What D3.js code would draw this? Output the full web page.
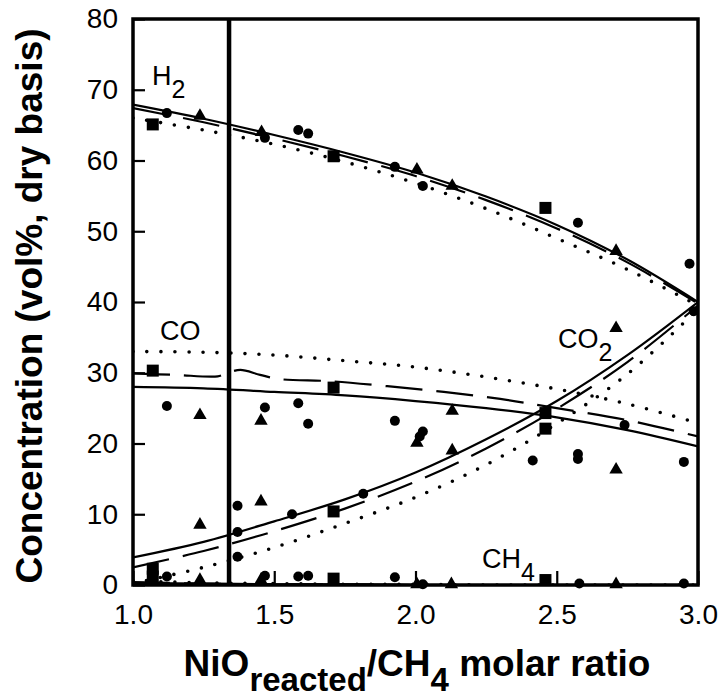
<!DOCTYPE html>
<html><head><meta charset="utf-8">
<script src="https://cdn.jsdelivr.net/npm/d3@7"></script>
<style>body{margin:0;background:#fff}svg{display:block}text{font-family:"Liberation Sans",Arial,sans-serif;fill:#000}</style>
</head><body>
<svg id="c" width="723" height="700"></svg>
<script>
// ---- data ----
const xTicks = [1.0, 1.5, 2.0, 2.5, 3.0];
const yTicks = [0, 10, 20, 30, 40, 50, 60, 70, 80];
const reactedLine = 1.34;

const modelX = [1.0, 1.25, 1.5, 1.75, 2.0, 2.25, 2.5, 2.75, 3.0];
const h2Solid  = [67.9, 65.9, 63.6, 61.1, 58.3, 54.9, 50.9, 46.0, 40.0];
const h2Dashed = [67.4, 65.4, 63.1, 60.6, 57.8, 54.4, 50.4, 45.6, 39.8];
const h2Dotted = [66.0, 64.3, 62.3, 59.8, 56.8, 53.2, 49.0, 44.6, 39.5];
const coSolid  = [28.0, 27.8, 27.3, 26.8, 26.0, 25.0, 23.7, 21.9, 19.6];
const coDotted = [33.0, 32.9, 32.5, 31.7, 30.8, 29.4, 27.7, 25.6, 22.9];
const co2Solid  = [3.9, 6.1, 9.0, 12.1, 15.9, 20.6, 26.0, 32.5, 40.0];
const co2Dashed = [2.5, 4.8, 7.6, 10.8, 14.6, 19.3, 24.9, 31.5, 39.5];
const co2Dotted = [0.2, 2.5, 5.3, 8.7, 12.4, 17.0, 22.8, 29.8, 39.0];
const ch4Solid  = [0.3, 0.2, 0.1, 0.1, 0.0, 0.0, 0.0, 0.0, 0.0];
const ch4Dashed = [0.4, 0.2, 0.1, 0.1, 0.0, 0.0, 0.0, 0.0, 0.0];
const ch4Dotted = [0.6, 0.3, 0.2, 0.1, 0.1, 0.0, 0.0, 0.0, 0.0];
const coDashedX = [1.0, 1.15, 1.3, 1.33, 1.38, 1.45, 1.52, 1.7, 1.9, 2.1, 2.3, 2.5, 2.75, 3.0];
const coDashedY = [29.9, 29.7, 29.5, 29.9, 30.4, 29.7, 29.1, 28.8, 28.1, 27.3, 26.3, 25.0, 23.3, 21.0];

// measured points: [ratio, vol%]
const circles = [
  [1.12,66.7],[1.467,63.2],[1.585,64.3],[1.62,63.8],[1.927,59.1],[2.026,56.4],[2.575,51.2],[2.97,45.4],
  [1.12,25.3],[1.467,25.1],[1.585,25.7],[1.62,22.8],[1.927,23.2],[2.026,21.7],[2.415,17.6],[2.575,18.5],[2.74,22.6],[2.95,17.4],
  [1.37,11.2],[1.37,7.5],[1.37,4.0],[1.563,10.0],[1.815,12.9],[2.015,21.0],[2.575,17.8],[2.985,38.7],
  [1.12,1.2],[1.467,1.3],[1.585,1.2],[1.62,1.3],[1.927,1.1],[2.026,0.1],[2.58,0.2],[2.95,0.2]
];
const triangles = [
  [1.237,66.3],[1.455,64.0],[2.005,58.7],[2.13,56.4],[2.71,47.2],
  [1.237,24.0],[1.453,23.2],[2.13,24.6],[2.71,16.3],
  [1.237,8.5],[1.453,11.8],[2.005,20.1],[2.13,19.0],[2.71,36.3],
  [1.237,0.7],[1.453,0.7],[2.005,0.1],[2.127,0.1],[2.71,0.1]
];
const squares = [
  [1.07,65.1],[1.71,60.6],[2.46,53.3],
  [1.07,30.3],[1.71,27.9],[2.46,22.1],
  [1.07,2.3],[1.71,10.4],[2.46,24.3],
  [1.07,1.2],[1.71,0.9],[2.46,0.7]
];

// ---- drawing ----
const svg = d3.select("#c");
const L = 133, R = 698, T = 19, B = 585;
const x = d3.scaleLinear().domain([1, 3]).range([L, R]);
const y = d3.scaleLinear().domain([0, 80]).range([B, T]);

svg.append("clipPath").attr("id","pc").append("rect")
  .attr("x", L).attr("y", T - 2).attr("width", R - L).attr("height", B - T + 2);
const plot = svg.append("g").attr("clip-path","url(#pc)");

const line = d3.line().x(d => x(d[0])).y(d => y(d[1])).curve(d3.curveCatmullRom.alpha(0.5));
const styles = {
  solid:  {w: 2.2, dash: null, cap: "butt"},
  dashed: {w: 2.2, dash: "37,14", cap: "butt"},
  dotted: {w: 3.6, dash: "0,14", cap: "round"}
};
function drawCurve(xs, ys, kind) {
  const s = styles[kind];
  const p = plot.append("path").datum(xs.map((v, i) => [v, ys[i]]))
    .attr("d", line).attr("fill","none").attr("stroke","#000")
    .attr("stroke-width", s.w).attr("stroke-linecap", s.cap);
  if (s.dash) p.attr("stroke-dasharray", s.dash);
}
drawCurve(modelX, h2Solid, "solid");
drawCurve(modelX, h2Dashed, "dashed");
drawCurve(modelX, h2Dotted, "dotted");
drawCurve(modelX, coSolid, "solid");
drawCurve(coDashedX, coDashedY, "dashed");
drawCurve(modelX, coDotted, "dotted");
drawCurve(modelX, co2Solid, "solid");
drawCurve(modelX, co2Dashed, "dashed");
drawCurve(modelX, co2Dotted, "dotted");
drawCurve(modelX, ch4Solid, "solid");
drawCurve(modelX, ch4Dashed, "dashed");
drawCurve(modelX, ch4Dotted, "dotted");

// markers
svg.append("g").selectAll("circle").data(circles).join("circle")
  .attr("cx", d => x(d[0])).attr("cy", d => y(d[1])).attr("r", 5).attr("fill","#000");
svg.append("g").selectAll("path").data(triangles).join("path")
  .attr("transform", d => `translate(${x(d[0])},${y(d[1])})`)
  .attr("d", d3.symbol().type(d3.symbolTriangle).size(78)).attr("fill","#000");
svg.append("g").selectAll("rect").data(squares).join("rect")
  .attr("x", d => x(d[0]) - 6).attr("y", d => y(d[1]) - 6)
  .attr("width", 12).attr("height", 12).attr("fill","#000");

// vertical line
svg.append("line").attr("x1", x(reactedLine)).attr("x2", x(reactedLine))
  .attr("y1", T).attr("y2", B).attr("stroke","#000").attr("stroke-width", 4.5);

// frame
svg.append("rect").attr("x", L).attr("y", T).attr("width", R - L).attr("height", B - T)
  .attr("fill","none").attr("stroke","#000").attr("stroke-width", 3.5);

// axes (inward ticks)
const xAxis = d3.axisBottom(x).tickValues(xTicks).tickSize(-14).tickPadding(20).tickFormat(d3.format(".1f"));
const gx = svg.append("g").attr("transform", `translate(0,${B})`).call(xAxis);
gx.select(".domain").remove();
gx.selectAll(".tick line").attr("stroke-width", 2.2);
gx.selectAll("text").attr("font-size", 28).attr("dy", "0.71em").attr("y", 19);

const yAxis = d3.axisLeft(y).tickValues(yTicks).tickSize(-12).tickPadding(15);
const gy = svg.append("g").attr("transform", `translate(${L},0)`).call(yAxis);
gy.select(".domain").remove();
gy.selectAll(".tick line").attr("stroke-width", 2.2);
gy.selectAll("text").attr("font-size", 28).attr("x", -15);
svg.selectAll(".tick text").style("font-family", '"Liberation Sans", Arial, sans-serif');

// series labels
function label(px, py, main, sub) {
  const t = svg.append("text").attr("x", px).attr("y", py).attr("font-size", 27);
  t.append("tspan").text(main);
  if (sub) t.append("tspan").attr("dy", 13).attr("font-size", 25).text(sub);
}
label(152, 85, "H", "2");
label(160, 340, "CO");
label(558, 348, "CO", "2");
label(482, 568, "CH", "4");

// axis titles
svg.append("text").attr("transform", `translate(42,306) rotate(-90)`)
  .attr("text-anchor","middle").attr("font-size", 37).attr("font-weight","bold")
  .text("Concentration (vol%, dry basis)");
const xt = svg.append("text").attr("x", 417).attr("y", 676).attr("text-anchor","middle")
  .attr("font-size", 37).attr("font-weight","bold");
xt.append("tspan").text("NiO");
xt.append("tspan").attr("dy", 15).attr("font-size", 33).text("reacted");
xt.append("tspan").attr("dy", -15).text("/CH");
xt.append("tspan").attr("dy", 15).attr("font-size", 33).text("4");
xt.append("tspan").attr("dy", -15).text(" molar ratio");
</script>
</body></html>
